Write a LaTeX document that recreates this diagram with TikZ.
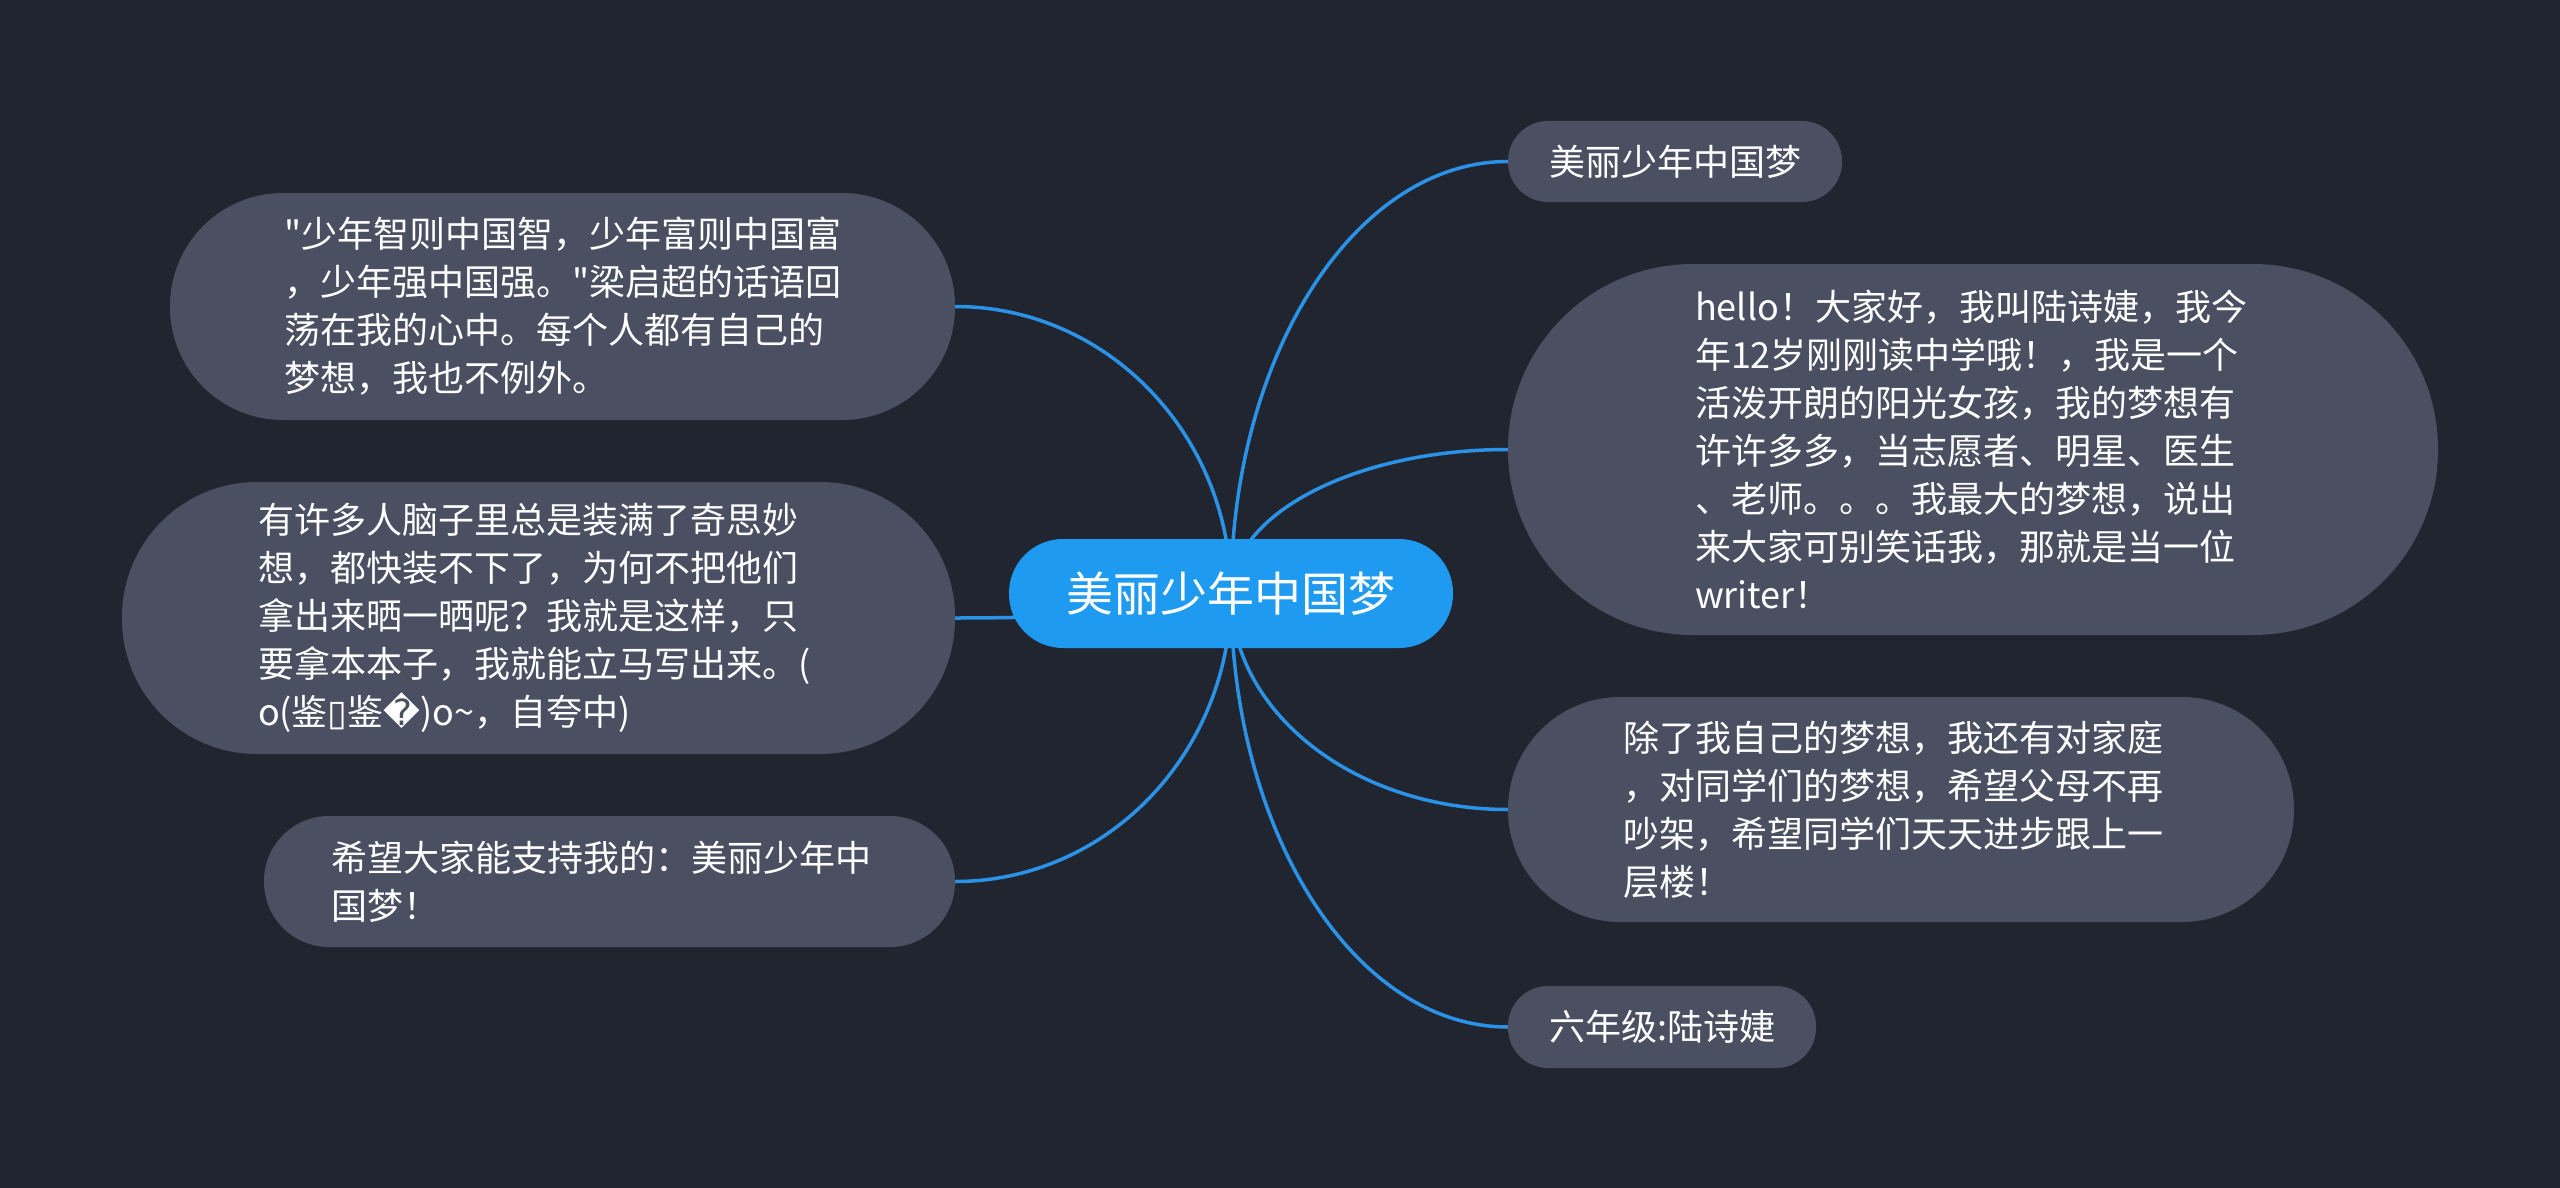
\documentclass[tikz,border=0pt]{standalone}
\usepackage{fontspec}
\usetikzlibrary{calc}
\newfontfamily\cjkfont{Noto Sans CJK SC}
\newfontfamily\dvfont{DejaVu Sans}
\definecolor{bgcol}{HTML}{212530}
\definecolor{boxcol}{HTML}{4A5062}
\definecolor{rootcol}{HTML}{1E9AF0}
\definecolor{linecol}{HTML}{2A93E8}
\pgfdeclarelayer{back}
\pgfdeclarelayer{lines}
\pgfsetlayers{back,lines,main}
\begin{document}
\begin{tikzpicture}[x=1pt,y=-1pt,
  topic/.style={fill=boxcol, text=white, inner sep=0pt, align=left,
    font=\cjkfont\fontsize{36}{48}\selectfont},
  rootbox/.style={fill=rootcol, text=white, inner sep=0pt,
    font=\cjkfont\fontsize{47}{56}\selectfont},
  conn/.style={draw=linecol, line width=3.5pt}]
\begin{pgfonlayer}{back}
\fill[bgcol] (0,0) rectangle (2560,1188);
\end{pgfonlayer}
\useasboundingbox (0,0) rectangle (2560,1188);

\node[rootbox, minimum width=444pt, minimum height=109pt, rounded corners=54pt] (root) at (1231,593.5) {美丽少年中国梦};

\node[topic, minimum width=785pt, minimum height=227pt, rounded corners=113pt, text width=557pt] (L1) at (562.5,306.5)
 {"少年智则中国智，少年富则中国富\\，少年强中国强。"梁启超的话语回\\荡在我的心中。每个人都有自己的\\梦想，我也不例外。};

\node[topic, minimum width=833pt, minimum height=272pt, rounded corners=135pt, text width=561pt] (L2) at (538.5,618)
 {有许多人脑子里总是装满了奇思妙\\想，都快装不下了，为何不把他们\\拿出来晒一晒呢？我就是这样，只\\要拿本本子，我就能立马写出来。(\\o(鉴{\dvfont ▯}鉴{\dvfont �})o\string~，自夸中)};

\node[topic, minimum width=691pt, minimum height=131pt, rounded corners=65pt, text width=557pt] (L3) at (609.5,881.5)
 {希望大家能支持我的：美丽少年中\\国梦！};

\node[topic, minimum width=334pt, minimum height=81pt, rounded corners=40pt, align=center] (R1) at (1675,161.5) {美丽少年中国梦};

\node[topic, minimum width=930pt, minimum height=371pt, rounded corners=185pt, text width=556pt] (R2) at (1973,449.5)
 {hello！大家好，我叫陆诗婕，我今\\年12岁刚刚读中学哦！，我是一个\\活泼开朗的阳光女孩，我的梦想有\\许许多多，当志愿者、明星、医生\\、老师。。。我最大的梦想，说出\\来大家可别笑话我，那就是当一位\\writer！};

\node[topic, minimum width=786pt, minimum height=225pt, rounded corners=112pt, text width=556pt] (R3) at (1901,809.5)
 {除了我自己的梦想，我还有对家庭\\，对同学们的梦想，希望父母不再\\吵架，希望同学们天天进步跟上一\\层楼！};

\node[topic, minimum width=308pt, minimum height=82pt, rounded corners=40pt, align=center] (R4) at (1662,1027) {六年级:陆诗婕};

\begin{pgfonlayer}{lines}
\foreach \t in {L1,L2,L3}
  \draw[conn] (root.center)
    .. controls ($(root.center)!0.552!(root.center |- \t.east)$)
    and ($(\t.east)!0.552!(root.center |- \t.east)$) .. (\t.east);
\foreach \t in {R1,R2,R3,R4}
  \draw[conn] (root.center)
    .. controls ($(root.center)!0.552!(root.center |- \t.west)$)
    and ($(\t.west)!0.552!(root.center |- \t.west)$) .. (\t.west);
\end{pgfonlayer}
\end{tikzpicture}
\end{document}
